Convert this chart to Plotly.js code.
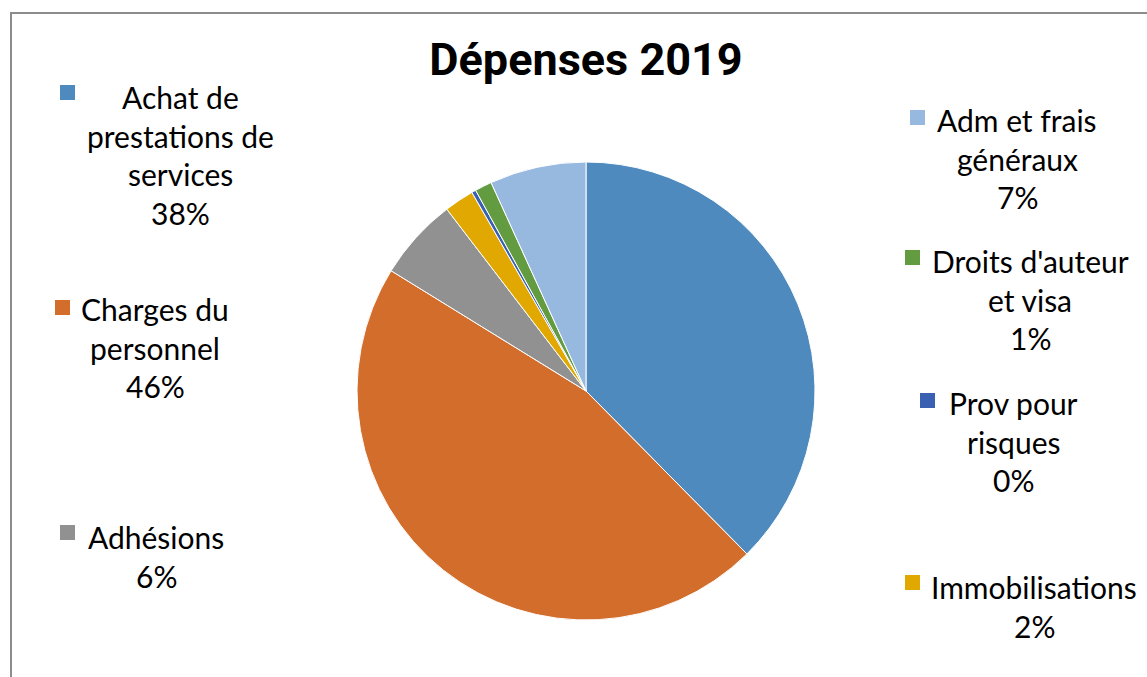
<!DOCTYPE html>
<html>
<head>
<meta charset="utf-8">
<script src="https://cdn.plot.ly/plotly-3.0.1.min.js"></script>
<style>html,body{margin:0;padding:0;background:#fff;}#chart{width:1147px;height:677px;}</style>
</head>
<body>
<div id="chart"></div>
<script>
// Data
const categories = [
  "Achat de prestations de services",
  "Charges du personnel",
  "Adhésions",
  "Immobilisations",
  "Prov pour risques",
  "Droits d'auteur et visa",
  "Adm et frais généraux"
];
const labelLines = [
  ["Achat de", "prestations de", "services"],
  ["Charges du", "personnel"],
  ["Adhésions"],
  ["Immobilisations"],
  ["Prov pour", "risques"],
  ["Droits d'auteur", "et visa"],
  ["Adm et frais", "généraux"]
];
const values = [37.6, 46.2, 5.8, 2.1, 0.3, 1.2, 6.8];
const colors = ["#4F8ABE", "#D36D2B", "#919191", "#E0A800", "#3A60B2", "#629B40", "#97B9E0"];
const chartTitle = "Dépenses 2019";

// Layout helpers (pixel -> paper)
const W = 1147, H = 677;
const px = x => x / W;
const py = y => 1 - y / H;

// label block positions: [center x, first line center y, key square left, key square top]
const labelPos = [
  [180, 97, 60, 85],
  [155, 309, 55, 300],
  [156, 537, 60, 525],
  [1034, 587, 905, 575],
  [1013, 403, 920, 393],
  [1030, 261, 905, 250],
  [1017, 120, 910, 110]
];
const lineGap = 38.7;
const fontFam = "Lato, 'Open Sans', sans-serif";
const fontSize = 30;

const total = values.reduce((a, b) => a + b, 0);
const annotations = [];
const shapes = [];
categories.forEach((c, i) => {
  const lines = labelLines[i].concat([Math.round(values[i] / total * 100) + "%"]);
  const [cx, cy, sx, sy] = labelPos[i];
  lines.forEach((t, k) => {
    annotations.push({
      text: t, xref: "paper", yref: "paper",
      x: px(cx), y: py(cy + k * lineGap),
      xanchor: "center", yanchor: "middle", showarrow: false,
      font: {family: fontFam, size: fontSize, color: "#000"}
    });
  });
  shapes.push({
    type: "rect", xref: "paper", yref: "paper",
    x0: px(sx), x1: px(sx + 15), y0: py(sy + 15), y1: py(sy),
    fillcolor: colors[i], line: {width: 0}
  });
});
// chart frame
shapes.push({
  type: "rect", xref: "paper", yref: "paper",
  x0: px(11), x1: px(1160), y0: py(690), y1: py(13),
  line: {color: "#8C8C8C", width: 2}, fillcolor: "rgba(0,0,0,0)"
});

const cxp = 586, cyp = 391, r = 229;
const data = [{
  type: "pie",
  labels: categories,
  values: values,
  sort: false,
  direction: "clockwise",
  rotation: 0,
  textinfo: "none",
  hoverinfo: "label+percent",
  marker: {colors: colors, line: {color: "#fff", width: 1}},
  domain: {x: [px(cxp - r), px(cxp + r)], y: [py(cyp + r), py(cyp - r)]},
  showlegend: false
}];

const layout = {
  width: W, height: H,
  margin: {l: 0, r: 0, t: 0, b: 0},
  paper_bgcolor: "#fff",
  title: {
    text: "<b>" + chartTitle + "</b>",
    font: {family: "Roboto, sans-serif", size: 45, color: "#000"},
    x: px(586), xanchor: "center", xref: "paper",
    y: py(59), yanchor: "middle", yref: "container"
  },
  annotations: annotations,
  shapes: shapes,
  showlegend: false
};

Plotly.newPlot("chart", data, layout, {displayModeBar: false, staticPlot: true});
</script>
</body>
</html>
